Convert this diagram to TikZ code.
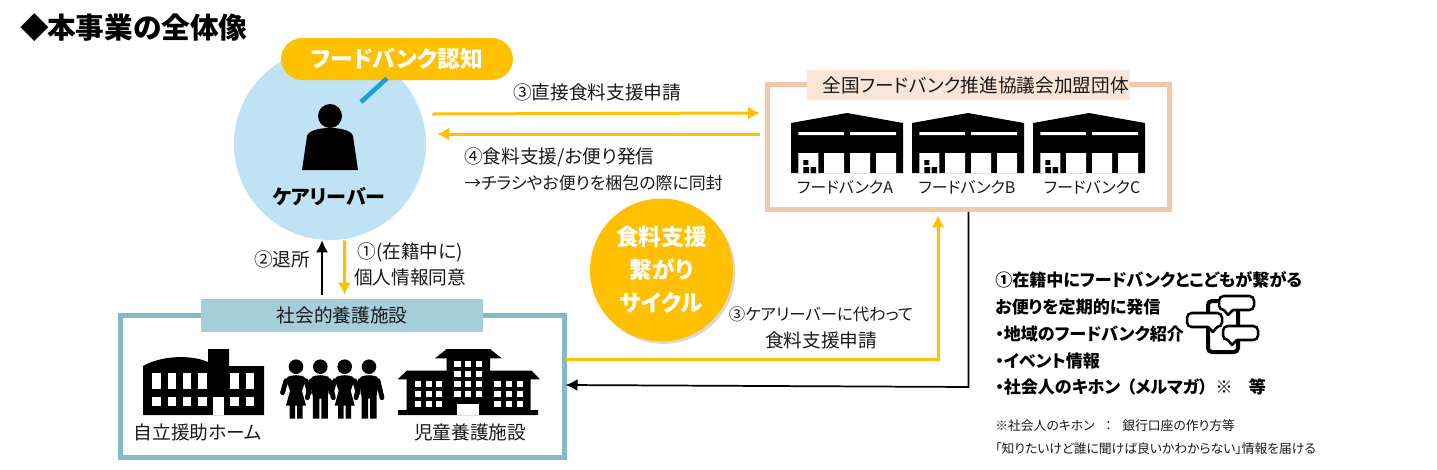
\documentclass[tikz,border=0pt]{standalone}
\usepackage{fontspec}
\setmainfont[RawFeature=+palt]{Noto Sans CJK JP}
\usetikzlibrary{positioning,arrows.meta,shadows}
\definecolor{yelline}{HTML}{FFC000}
\definecolor{skyfill}{HTML}{BFE3F5}
\definecolor{tickblue}{HTML}{1A9FD2}
\definecolor{peachline}{HTML}{F5C6AA}
\definecolor{peachfill}{HTML}{FBE5D6}
\definecolor{tealline}{HTML}{84BAC8}
\definecolor{tealfill}{HTML}{A5CED9}
\tikzset{
  yelarrow/.style={-{Latex[length=9pt,width=10pt]}, yelline, line width=2.25pt},
  blkarrow/.style={-{Latex[length=9pt,width=9pt]}, black, line width=1.3pt},
  plain/.style={font=\fontsize{14}{19}\selectfont, inner sep=0pt, align=center, text=black!90},
  small/.style={font=\fontsize{12}{16}\selectfont, inner sep=0pt, text=black!90},
  listtxt/.style={font=\fontsize{12.8}{20.2}\selectfont\bfseries, inner sep=0pt, align=left, anchor=north west},
  notetxt/.style={font=\fontsize{9.6}{17.2}\selectfont, inner sep=0pt, align=left, anchor=north west, text=black!90},
  framebox/.style={draw, line width=3.75pt, fill=white, inner sep=0pt},
  tagbox/.style={inner sep=0pt, font=\fontsize{14}{19}\selectfont, text=black!90},
  warehouse/.pic={
    \fill[black] (0,10) -- (56,0) -- (112,10) -- (112,60) -- (0,60) -- cycle;
    \fill[white] (7.3,19) rectangle (53,22) (59,19) rectangle (105,22);
    \fill[white] (7.3,40) rectangle (27.3,60) (33,40) rectangle (53,60)
                 (59,40) rectangle (79,60) (85,40) rectangle (105,60);
    \fill[black] (12.3,47) rectangle (17.3,52) (12.3,54) rectangle (18,60) (19.7,54) rectangle (25,60);
  },
  girl/.pic={
    \fill (0,0) circle (7.3);
    \draw[line width=3.6pt, line cap=round, line join=round] (-10,14) -- (-13.5,26) (10,14) -- (13.5,26);
    \fill (-8,10) .. controls (-3,8) and (3,8) .. (8,10) -- (10,13) -- (6,24) -- (10,39) -- (-10,39) -- (-6,24) -- (-10,13) -- cycle;
    \fill (-6.5,38) rectangle (-1,52) (1,38) rectangle (6.5,52);
  },
  boy/.pic={
    \fill (0,0) circle (7.3);
    \draw[line width=3.6pt, line cap=round, line join=round] (-9,14) -- (-13,31) (9,14) -- (13,31);
    \fill (-8,10) .. controls (-3,8) and (3,8) .. (8,10) -- (10,14) -- (7.5,30) -- (7.5,52) -- (1,52) -- (1,32) -- (-1,32) -- (-1,52) -- (-7.5,52) -- (-7.5,30) -- (-10,14) -- cycle;
  },
  bubble/.pic={
    \draw[fill=white, line width=1.9pt, rounded corners=3.5pt] (0,0) rectangle (35,14);
    \fill[white] (5,12) -- (14,12) -- (9,19) -- cycle;
    \draw[line width=1.9pt, line join=round] (5,14) -- (9,19) -- (14,14);
  }
}

\begin{document}
\begin{tikzpicture}[x=0.75pt, y=-0.75pt]
  \useasboundingbox (0,0) rectangle (1437,469);
  \node[inner sep=0pt, anchor=west, font=\fontsize{21.5}{25}\selectfont\bfseries] (title) at (20,28) {◆\kern-1.3pt本事業の全体像};

  % care leaver
  \node[circle, fill=skyfill, minimum size=144pt, inner sep=0pt] (carer) at (330,144) {};
  \node[draw=none, fill=yelline, rounded corners=16pt, minimum width=174pt, minimum height=31.5pt, inner sep=0pt,
        text=white, font=\fontsize{17}{20}\selectfont\bfseries] (aware) at (397,59) {フードバンク認知};
  \coordinate (tickend) at (361,102);
  \draw[tickblue, line width=3.4pt] ([shift={(-10,-2)}]aware.south) -- (tickend);
  \fill (330,116) circle (12);
  \fill (302,170) -- (307,136) .. controls (309,130) and (320,128) .. (330,128) .. controls (340,128) and (351,130) .. (353,136) -- (358,170) -- cycle;
  \node[inner sep=0pt, font=\fontsize{15}{18}\selectfont\bfseries] (carername) at (329,197) {ケアリーバー};

  % food bank group
  \node[framebox, draw=peachline, minimum width=301.5pt, minimum height=94.1pt] (bankframe) at (968.5,146.75) {};
  \node[tagbox, fill=peachfill, minimum width=242.25pt, minimum height=22.5pt] (banktag) at (968.5,85) {\hspace*{11pt}全国フードバンク推進協議会加盟団体};
  \pic (depotA) at (791,113) {warehouse};
  \pic (depotB) at (912,113) {warehouse};
  \pic (depotC) at (1033,113) {warehouse};
  \node[small] (bankA) at (845,187) {フードバンクA};
  \node[small] (bankB) at (967,187) {フードバンクB};
  \node[small] (bankC) at (1092,187) {フードバンクC};

  % care facilities
  \node[framebox, draw=tealline, minimum width=333pt, minimum height=106.5pt] (homeframe) at (342.5,386.5) {};
  \node[tagbox, fill=tealfill, minimum width=211.5pt, minimum height=24.75pt] (hometag) at (342,315.5) {社会的養護施設};
  % school
  \fill (143,415) -- (143,366) .. controls (160,356) and (190,354) .. (208,362) -- (208,349) -- (229,349) -- (229,366) -- (264,366) -- (264,415) -- cycle;
  \foreach \wx in {152.3,167.7,183,198.3,230.3,245.7}{
    \fill[white] (\wx,373) rectangle ++(8.4,16);
    \fill[white] (\wx,397) rectangle ++(8.4,8.7);
  }
  \fill[white] (213.3,397) rectangle (224,415);
  % children
  \pic at (296,366.7) {girl};
  \pic at (320.3,366.7) {boy};
  \pic at (344.7,366.7) {girl};
  \pic at (369,366.7) {boy};
  % big house
  \fill (435,358.3) -- (446.7,349) -- (490,349) -- (501.7,358.3) -- (490,358.3) -- (490,370.7) -- (531.7,370.7) -- (540,379.3) -- (530.7,379.3)
        -- (530.7,410) -- (538,410) -- (538,415) -- (398,415) -- (398,410) -- (406.7,410) -- (406.7,379.3) -- (397.7,379.3) -- (406.7,370.7)
        -- (446.7,370.7) -- (446.7,358.3) -- cycle;
  \fill[white] (456.7,404.3) rectangle (479.3,415);
  \foreach \wy in {361.3,371.3,381.3,391.3}
    \foreach \wx in {454.3,465,475.7}
      \fill[white] (\wx,\wy) rectangle ++(6.4,6);
  \foreach \wy in {381.3,391.3,401.3}
    \foreach \wx in {415,425.7,436,494.3,505.7,516.7}
      \fill[white] (\wx,\wy) rectangle ++(6.2,6);
  \node[plain] (indep) at (198,432.7) {自立援助ホーム};
  \node[plain] (nursery) at (470,432.7) {児童養護施設};

  % cycle badge
  \node[circle, fill=yelline, minimum size=107.25pt, inner sep=0pt, text=white, align=center,
        font=\fontsize{17}{24.8}\selectfont\bfseries, drop shadow={shadow xshift=1.8pt, shadow yshift=-1.8pt, opacity=.3}] (cycle) at (661.5,270) {食料支援\\繋がり\\サイクル};

  % connectors
  \draw[yelarrow] ([shift={(6,-30)}]carer.east) -- ([shift={(-5,-33.75)}]bankframe.west);
  \draw[yelarrow] ([shift={(-5,-12.75)}]bankframe.west) -- ([shift={(11,-10)}]carer.east);
  \draw[blkarrow] ([shift={(-20,-4)}]hometag.north) -- ([xshift=-6pt]carer.south);
  \draw[yelarrow] ([xshift=10.9pt]carer.south) -- ([shift={(2.5,-4)}]hometag.north);
  \draw[yelarrow] ([shift={(-1,-27.5)}]homeframe.east) -| ([shift={(-30.5,3.5)}]bankframe.south);
  \draw[blkarrow] (bankframe.south) -- ++(0,175) -- ([shift={(-1.5,-1.5)}]homeframe.east);

  % labels
  \node[plain] (directlbl) at (597,92) {③直接食料支援申請};
  \node[plain, align=left, anchor=north west, font=\fontsize{14}{20}\selectfont] (sendlbl) at (464,147) {④食料支援/お便り発信\\{\fontsize{12.7}{20}\selectfont →チラシやお便りを梱包の際に同封}};
  \node[plain] (leavelbl) at (282,259) {②退所};
  \node[plain, font=\fontsize{14}{20}\selectfont] (consentlbl) at (410,264.5) {①(在籍中に)\\個人情報同意};
  \node[plain, font=\fontsize{14}{20}\selectfont] (proxylbl) at (821,327.5) {{\fontsize{12.3}{20}\selectfont ③ケアリーバーに代わって}\\食料支援申請};
  \node[listtxt] (newslist) at (995,271) {①在籍中にフードバンクとこどもが繋がる\\お便りを定期的に発信\\・地域のフードバンク紹介\\・イベント情報\\・社会人のキホン\kern5pt（メルマガ）\kern6pt※\kern12pt 等};
  \node[notetxt] (notelist) at (995,419) {※社会人のキホン\kern8pt：\kern8pt銀行口座の作り方等\\「知りたいけど誰に聞けば良いかわからない」情報を届ける};

  % phone icon
  \draw[line width=3pt, rounded corners=3pt] (1208,301) rectangle (1238,352);
  \pic at (1219,296) {bubble};
  \pic[xscale=-1] at (1222,313) {bubble};
  \pic at (1223,326) {bubble};
\end{tikzpicture}
\end{document}
